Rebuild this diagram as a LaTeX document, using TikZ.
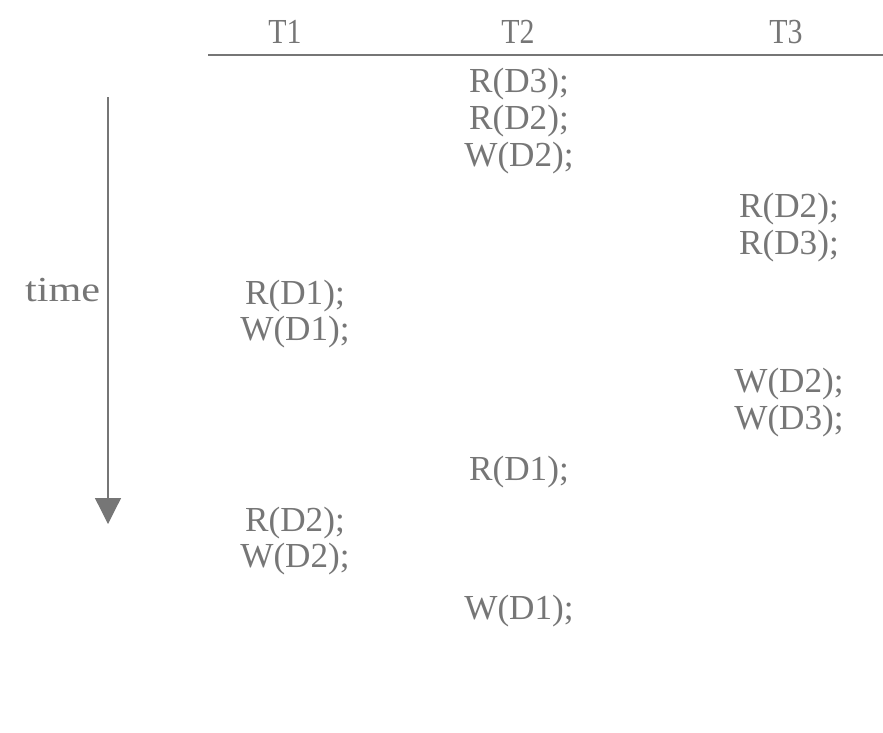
\documentclass[tikz,border=0pt]{standalone}
\usepackage{fontspec}
\setmainfont{Liberation Serif}
\usetikzlibrary{arrows.meta}
\definecolor{inkgray}{RGB}{118,118,118}
\tikzset{
    every node/.style={text=inkgray, font=\fontsize{25}{30}\selectfont},
    op/.style={anchor=center},
    head/.style={anchor=center, xscale=.85},
    rule/.style={draw=inkgray, line width=0.9pt},
}

\begin{document}
\begin{tikzpicture}[x=0.025cm, y=-0.025cm]
        \useasboundingbox (0, 0) rectangle (883, 732);
        % column headers
        \node[head] (t1) at (285, 32) {T1};
        \node[head] (t2) at (518, 32) {T2};
        \node[head] (t3) at (786, 32) {T3};
        \coordinate (rulel) at (208, 55);
        \coordinate (ruler) at (883, 55);
        \draw[rule] (rulel) -- (ruler);
        % time axis
        \coordinate (timetop) at (108, 97);
        \coordinate (timebot) at (108, 524);
        \draw[rule, -{Triangle[width=0.65cm, length=0.65cm]}] (timetop) --
            (timebot);
        \node[anchor=east, xscale=1.2] (time) at (106, 290) {time};
        % schedule
        \node[op] (a1) at (519, 84) {R(D3);};
        \node[op] (a2) at (519, 121) {R(D2);};
        \node[op] (a3) at (519, 158) {W(D2);};
        \node[op] (b1) at (789, 209) {R(D2);};
        \node[op] (b2) at (789, 246) {R(D3);};
        \node[op] (c1) at (295, 296) {R(D1);};
        \node[op] (c2) at (295, 332) {W(D1);};
        \node[op] (b3) at (789, 384) {W(D2);};
        \node[op] (b4) at (789, 421) {W(D3);};
        \node[op] (a4) at (519, 472) {R(D1);};
        \node[op] (c3) at (295, 523) {R(D2);};
        \node[op] (c4) at (295, 559) {W(D2);};
        \node[op] (a5) at (519, 611) {W(D1);};
    \end{tikzpicture}
\end{document}
